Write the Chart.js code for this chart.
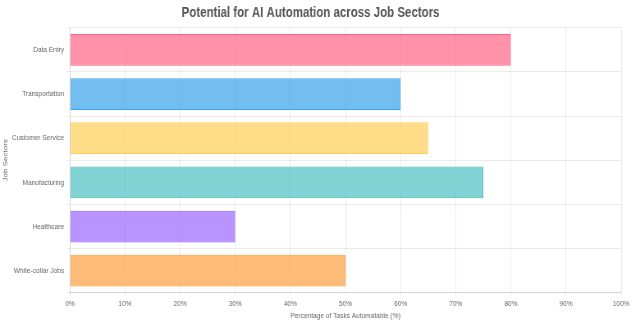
<!DOCTYPE html>
<html>
<head>
<meta charset="utf-8">
<script src="https://cdn.jsdelivr.net/npm/chart.js@4/dist/chart.umd.min.js"></script>
<style>
  html, body { margin: 0; padding: 0; background: #fff; overflow: hidden; width: 640px; height: 322px; }
  /* the reference text is horizontally squeezed, so draw wider and compress */
  #wrap { width: 780px; height: 321px; transform: scaleX(0.8205); transform-origin: 0 0; }
</style>
</head>
<body>
<div id="wrap"><canvas id="chart"></canvas></div>
<script>
const sectors = ['Data Entry', 'Transportation', 'Customer Service', 'Manufacturing', 'Healthcare', 'White-collar Jobs']
const automatable = [80, 60, 65, 75, 30, 50]
const fills = [
  'rgba(255, 99, 132, 0.7)',
  'rgba(54, 162, 235, 0.7)',
  'rgba(255, 206, 86, 0.7)',
  'rgba(75, 192, 192, 0.7)',
  'rgba(153, 102, 255, 0.7)',
  'rgba(255, 159, 64, 0.7)',
]
const borders = fills.map((c) => c.replace('0.7)', '1)'))

const family = "'Liberation Sans', Arial, sans-serif"
const font = { family, size: 8 }

new Chart(document.getElementById('chart'), {
  type: 'bar',
  data: {
    labels: sectors,
    datasets: [{
      label: 'Automation Potential',
      data: automatable,
      backgroundColor: fills,
      borderColor: borders,
      borderWidth: 1,
    }],
  },
  options: {
    indexAxis: 'y',
    responsive: true,
    maintainAspectRatio: false,
    animation: false,
    layout: { padding: { left: 0, right: 23, top: 5, bottom: 0 } },
    plugins: {
      legend: { display: false },
      title: {
        display: true,
        text: 'Potential for AI Automation across Job Sectors',
        color: '#555',
        font: { family, size: 14, weight: 'bold' },
        padding: { top: 0, bottom: 6 },
      },
    },
    scales: {
      x: {
        min: 0,
        max: 100,
        ticks: { stepSize: 10, color: '#666', font, padding: 3, callback: (v) => v + '%' },
        grid: { color: 'rgba(0,0,0,0.08)', tickLength: 3 },
        title: { display: true, text: 'Percentage of Tasks Automatable (%)', color: '#666', font, padding: { top: 0, bottom: 0 } },
      },
      y: {
        ticks: { color: '#666', font, padding: 3 },
        grid: { color: 'rgba(0,0,0,0.08)', tickLength: 4 },
        title: { display: true, text: 'Job Sectors', color: '#666', font, padding: { top: 2, bottom: 0 } },
      },
    },
  },
})
</script>
</body>
</html>
